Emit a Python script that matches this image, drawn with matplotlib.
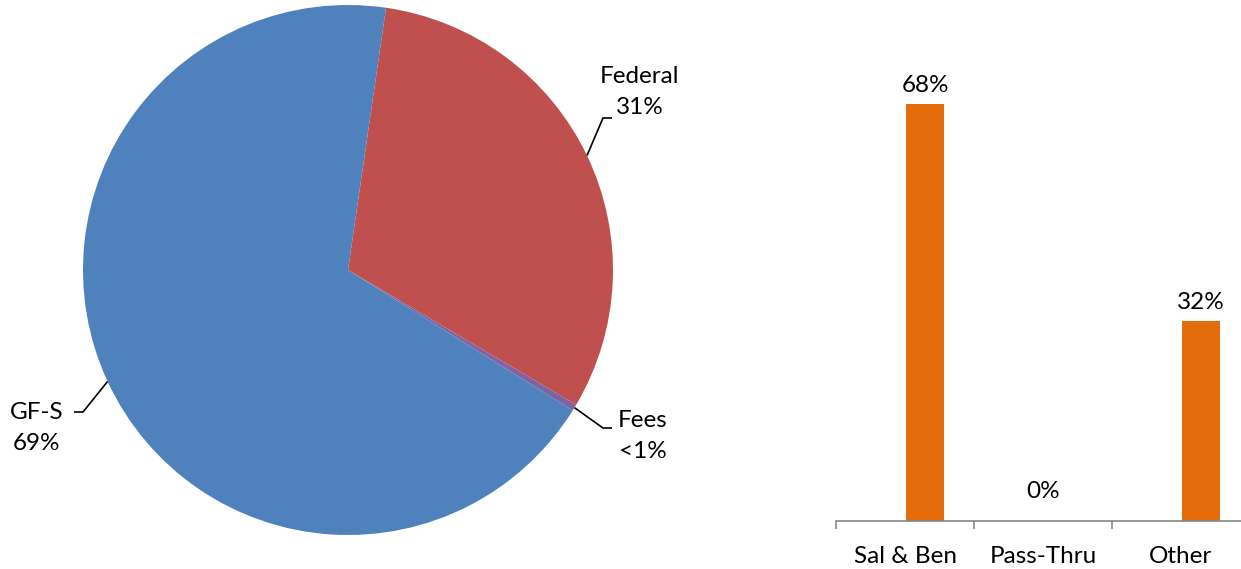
import numpy as np
import matplotlib
matplotlib.use("Agg")
import matplotlib.pyplot as plt

plt.rcParams["font.family"] = ["Lato", "DejaVu Sans"]

# pie data (clockwise from the top)
pie_labels = ["Federal", "Fees", "GF-S"]
pie_values = [31.2, 0.4, 68.4]
pie_texts = ["Federal\n31%", "Fees\n<1%", "GF-S\n69%"]
pie_colors = ["#C0504D", "#8064A2", "#4F81BD"]

# bar data
bar_cats = ["Sal & Ben", "Pass-Thru", "Other"]
bar_values = [67.6, 0, 32.4]
bar_texts = ["68%", "0%", "32%"]

W, H = 1241, 569
fig = plt.figure(figsize=(W / 100, H / 100), dpi=100)

# --- pie, drawn in pixel units (y up)
ax = fig.add_axes([0, 0, 1, 1])
cx, cy, r = 348, H - 270, 265
wedges, _ = ax.pie(pie_values, colors=pie_colors, startangle=81.75, counterclock=False,
                   center=(cx, cy), radius=r, frame=True,
                   wedgeprops=dict(linewidth=0))
ax.set_xlim(0, W)
ax.set_ylim(0, H)
ax.set_axis_off()

# label anchor (text centre), elbow point and horizontal end, in pixels from top-left
label_pos = [(640, 92), (643, 436), (37, 428)]
elbows = [((603, 118), (612, 118)), ((603, 428), (612, 428)), ((83, 412), (74, 412))]
for w, txt, (lx, ly), (e1, e2) in zip(wedges, pie_texts, label_pos, elbows):
    mid = np.deg2rad((w.theta1 + w.theta2) / 2)
    sx, sy = cx + r * np.cos(mid), cy + r * np.sin(mid)
    ax.plot([sx, e1[0], e2[0]], [sy, H - e1[1], H - e2[1]], color="black", lw=1.2,
            solid_capstyle="butt")
    ax.text(lx, H - ly, txt, ha="center", va="center", fontsize=17.5, linespacing=1.6)

# --- bar chart
bx = fig.add_axes([836 / W, 1 - 521 / H, 414 / W, 490 / H])
x = np.arange(len(bar_cats))
bx.bar(x + 0.145, bar_values, width=0.28, color="#E46C0A")
bx.set_xlim(-0.5, len(bar_cats) - 0.5)
bx.set_ylim(0, 79.4)
for i, (v, t) in enumerate(zip(bar_values, bar_texts)):
    xi = i + 0.145 if v > 0 else i
    bx.annotate(t, (xi, v), xytext=(0, 13 if v > 0 else 21), textcoords="offset points",
                ha="center", va="center", fontsize=17.5)
for s in ["top", "right", "left"]:
    bx.spines[s].set_visible(False)
bx.spines["bottom"].set_color("#868686")
bx.spines["bottom"].set_linewidth(1.2)
bx.set_yticks([])
bx.set_xticks(np.arange(len(bar_cats) + 1) - 0.5)
bx.set_xticklabels([])
bx.tick_params(axis="x", which="major", length=6, width=1.2, color="#868686", direction="out")
bx.set_xticks(x, minor=True)
bx.set_xticklabels(bar_cats, minor=True, fontsize=17.5)
bx.tick_params(axis="x", which="minor", length=0, pad=18)

fig.savefig("out.png", dpi=100)
